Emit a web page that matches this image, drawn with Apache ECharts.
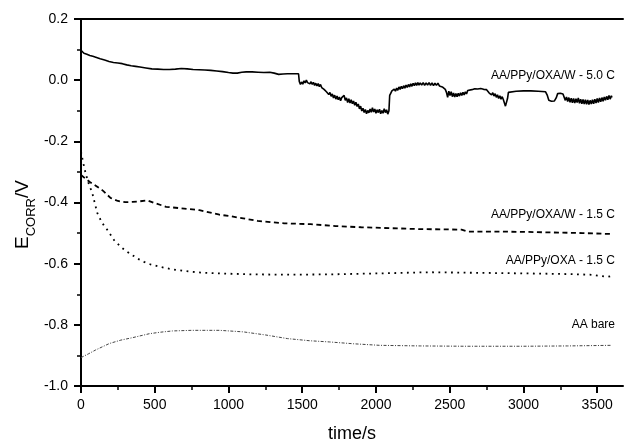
<!DOCTYPE html>
<html>
<head>
<meta charset="utf-8">
<script src="https://cdn.jsdelivr.net/npm/echarts@6/dist/echarts.min.js"></script>
<style>
  html, body { margin: 0; padding: 0; background: #fff; }
  #chart { width: 624px; height: 442px; }
</style>
</head>
<body>
<div id="chart"></div>
<script>
  // time (s), E_corr (V)
  var coatW50 = [
    [0, 0.098], [8, 0.092], [20, 0.088], [40, 0.085], [60, 0.081], [80, 0.078], [100, 0.075], [130, 0.07],
    [160, 0.066], [190, 0.061], [220, 0.058], [250, 0.056], [280, 0.054], [310, 0.05], [340, 0.047],
    [370, 0.045], [400, 0.043], [440, 0.04], [480, 0.037], [520, 0.036], [560, 0.035], [600, 0.035],
    [640, 0.036], [680, 0.038], [720, 0.037], [760, 0.035], [800, 0.034], [840, 0.033], [880, 0.032],
    [920, 0.03], [960, 0.028], [1000, 0.025], [1030, 0.023], [1060, 0.023], [1090, 0.026], [1120, 0.027],
    [1160, 0.027], [1200, 0.026], [1240, 0.025], [1280, 0.026], [1310, 0.023], [1340, 0.019], [1370, 0.02],
    [1400, 0.021], [1440, 0.021], [1475, 0.021],
    [1480, -0.004], [1488, -0.014], [1496, -0.006], [1504, -0.013], [1512, -0.002], [1520, -0.009],
    [1528, 0.0], [1536, -0.008], [1544, -0.003], [1552, -0.012], [1560, -0.005], [1568, -0.014],
    [1576, -0.007], [1584, -0.017], [1592, -0.01], [1600, -0.019], [1608, -0.011], [1616, -0.021],
    [1624, -0.014], [1632, -0.024], [1640, -0.018], [1648, -0.03], [1656, -0.024], [1664, -0.038],
    [1672, -0.033], [1680, -0.047], [1688, -0.04], [1696, -0.053], [1704, -0.045], [1712, -0.058],
    [1720, -0.049], [1728, -0.062], [1736, -0.052], [1744, -0.064], [1752, -0.055], [1760, -0.067],
    [1768, -0.057], [1776, -0.062], [1784, -0.05], [1792, -0.066], [1800, -0.058], [1808, -0.073],
    [1816, -0.061], [1824, -0.075], [1832, -0.064], [1840, -0.077], [1848, -0.068], [1856, -0.082],
    [1864, -0.072], [1872, -0.086], [1880, -0.078], [1888, -0.094], [1896, -0.085], [1904, -0.101],
    [1912, -0.092], [1920, -0.106], [1928, -0.096], [1936, -0.11], [1944, -0.099], [1952, -0.107],
    [1960, -0.094], [1968, -0.105], [1976, -0.09], [1984, -0.104], [1992, -0.094], [2000, -0.108],
    [2008, -0.097], [2016, -0.106], [2024, -0.095], [2032, -0.11], [2040, -0.099], [2048, -0.108],
    [2056, -0.093], [2064, -0.106], [2072, -0.097], [2080, -0.111], [2088, -0.1],
    [2093, -0.05], [2100, -0.043], [2108, -0.035], [2116, -0.04], [2124, -0.029], [2132, -0.036],
    [2140, -0.026], [2148, -0.033], [2156, -0.022], [2164, -0.03], [2172, -0.02], [2180, -0.028],
    [2188, -0.018], [2196, -0.026], [2204, -0.016], [2212, -0.024], [2220, -0.014], [2228, -0.022],
    [2236, -0.012], [2244, -0.02], [2252, -0.01], [2260, -0.018], [2268, -0.009], [2276, -0.017],
    [2284, -0.008], [2292, -0.016], [2300, -0.009], [2310, -0.016], [2320, -0.008], [2330, -0.017],
    [2340, -0.009], [2350, -0.016], [2360, -0.008], [2370, -0.017], [2380, -0.009], [2390, -0.018],
    [2400, -0.01], [2410, -0.017], [2420, -0.01], [2430, -0.019], [2440, -0.013], [2450, -0.022],
    [2460, -0.02], [2470, -0.03], [2478, -0.04], [2486, -0.056], [2494, -0.036], [2502, -0.05],
    [2510, -0.038], [2518, -0.054], [2526, -0.042], [2534, -0.055], [2542, -0.044], [2550, -0.054],
    [2558, -0.043], [2566, -0.052], [2574, -0.041], [2582, -0.05], [2590, -0.04], [2598, -0.048],
    [2606, -0.038], [2614, -0.045], [2622, -0.034], [2632, -0.036], [2650, -0.031], [2670, -0.028],
    [2690, -0.029], [2710, -0.027], [2730, -0.03], [2750, -0.031], [2760, -0.034], [2768, -0.042],
    [2776, -0.037], [2784, -0.048], [2792, -0.041], [2800, -0.052], [2808, -0.044], [2816, -0.056],
    [2824, -0.048], [2832, -0.06], [2840, -0.051], [2848, -0.062], [2856, -0.054], [2864, -0.064],
    [2872, -0.06], [2878, -0.085], [2885, -0.09], [2892, -0.06], [2898, -0.04], [2910, -0.037],
    [2950, -0.036], [3000, -0.035], [3050, -0.035], [3100, -0.036], [3150, -0.038], [3162, -0.05],
    [3172, -0.066], [3190, -0.069], [3210, -0.068], [3222, -0.058], [3232, -0.044], [3250, -0.043],
    [3268, -0.045], [3276, -0.05], [3284, -0.066], [3292, -0.055], [3300, -0.07], [3308, -0.057],
    [3316, -0.072], [3324, -0.059], [3332, -0.074], [3340, -0.06], [3348, -0.075], [3356, -0.061],
    [3364, -0.073], [3372, -0.058], [3380, -0.076], [3388, -0.062], [3396, -0.077], [3404, -0.063],
    [3412, -0.078], [3420, -0.064], [3428, -0.079], [3436, -0.065], [3444, -0.08], [3452, -0.066],
    [3460, -0.078], [3468, -0.064], [3476, -0.077], [3484, -0.062], [3492, -0.075], [3500, -0.06],
    [3508, -0.073], [3516, -0.058], [3524, -0.071], [3532, -0.057], [3540, -0.069], [3548, -0.055],
    [3556, -0.066], [3564, -0.053], [3572, -0.064], [3580, -0.05], [3588, -0.062], [3596, -0.051],
    [3600, -0.057]
  ]
  var coatW15 = [
    [0, -0.31], [30, -0.322], [60, -0.333], [100, -0.345], [150, -0.362], [200, -0.385], [250, -0.395],
    [300, -0.399], [350, -0.398], [400, -0.396], [450, -0.393], [500, -0.402], [577, -0.414], [700, -0.42],
    [803, -0.425], [939, -0.44], [1004, -0.444], [1100, -0.452], [1197, -0.46], [1300, -0.465],
    [1378, -0.468], [1557, -0.471], [1727, -0.477], [1900, -0.481], [2100, -0.484], [2300, -0.487],
    [2500, -0.488], [2580, -0.489], [2620, -0.495], [2800, -0.495], [3000, -0.496], [3200, -0.498],
    [3400, -0.5], [3600, -0.503]
  ]
  var coatOxa15 = [
    [0, -0.234], [15, -0.27], [31, -0.304], [50, -0.335], [77, -0.37], [95, -0.405], [111, -0.435],
    [133, -0.457], [155, -0.475], [179, -0.49], [224, -0.523], [269, -0.545], [310, -0.56], [348, -0.572],
    [390, -0.585], [427, -0.594], [470, -0.602], [518, -0.608], [580, -0.615], [654, -0.621],
    [740, -0.626], [835, -0.63], [950, -0.632], [1150, -0.635], [1400, -0.636], [1700, -0.635],
    [2000, -0.632], [2365, -0.628], [2700, -0.63], [3044, -0.632], [3300, -0.634], [3450, -0.636],
    [3573, -0.643], [3600, -0.64]
  ]
  var bareAA = [
    [0, -0.907], [50, -0.895], [100, -0.882], [193, -0.861], [270, -0.85], [349, -0.842], [464, -0.829],
    [540, -0.824], [620, -0.82], [750, -0.818], [940, -0.818], [1100, -0.823], [1250, -0.833],
    [1400, -0.845], [1550, -0.852], [1686, -0.856], [1850, -0.862], [2025, -0.867], [2300, -0.869],
    [2600, -0.87], [3000, -0.87], [3300, -0.869], [3600, -0.867]
  ]
  var xMajorTicks = [0, 500, 1000, 1500, 2000, 2500, 3000, 3500]
  var xMinorTicks = [250, 750, 1250, 1750, 2250, 2750, 3250]
  var curveNames = ['AA/PPy/OXA/W - 5.0 C', 'AA/PPy/OXA/W - 1.5 C', 'AA/PPy/OXA - 1.5 C', 'AA bare']

  var font = 'Liberation Sans, Arial, sans-serif'
  var xMax = 3675

  var chart = echarts.init(document.getElementById('chart'))
  chart.setOption({
    animation: false,
    backgroundColor: '#fff',
    grid: {
      left: 81,
      top: 19,
      right: 1,
      bottom: 56,
      outerBoundsMode: 'none'
    },
    xAxis: [{
      type: 'value',
      min: 0,
      max: xMax,
      position: 'bottom',
      name: 'time/s',
      nameLocation: 'middle',
      nameGap: 39,
      nameMoveOverlap: false,
      nameTextStyle: { color: '#000', fontSize: 18, fontFamily: font },
      axisLine: { onZero: false, lineStyle: { color: '#000', width: 2 } },
      axisTick: { customValues: xMajorTicks, length: 7, lineStyle: { color: '#000', width: 2 } },
      axisLabel: {
        customValues: xMajorTicks,
        margin: 12,
        color: '#000',
        fontSize: 14,
        fontFamily: font,
        formatter: function(v) { return String(v) }
      },
      splitLine: { show: false }
    }, {
      // minor ticks only
      type: 'value',
      min: 0,
      max: xMax,
      position: 'bottom',
      axisLine: { show: false, onZero: false },
      axisTick: { customValues: xMinorTicks, length: 4, lineStyle: { color: '#000', width: 1.5 } },
      axisLabel: { show: false },
      splitLine: { show: false }
    }, {
      // top frame line
      type: 'value',
      min: 0,
      max: xMax,
      position: 'top',
      axisLine: { onZero: false, lineStyle: { color: '#000', width: 2 } },
      axisTick: { show: false },
      axisLabel: { show: false },
      splitLine: { show: false }
    }],
    yAxis: {
      type: 'value',
      min: -1.0,
      max: 0.2,
      interval: 0.2,
      name: '{e|E}{sub|CORR}{e|/V}',
      nameLocation: 'middle',
      nameGap: 46,
      nameMoveOverlap: false,
      nameTextStyle: {
        color: '#000',
        padding: [0, 24, 0, 0],
        rich: {
          e: { fontSize: 19, fontFamily: font, color: '#000', lineHeight: 22, verticalAlign: 'top' },
          sub: { fontSize: 13, fontFamily: font, color: '#000', lineHeight: 13, verticalAlign: 'top', padding: [12, 0, 0, 0] }
        }
      },
      axisLine: { onZero: false, lineStyle: { color: '#000', width: 2 } },
      axisTick: { length: 7, lineStyle: { color: '#000', width: 2 } },
      minorTick: { show: true, splitNumber: 2, length: 4, lineStyle: { color: '#000', width: 1.5 } },
      axisLabel: {
        margin: 13,
        color: '#000',
        fontSize: 14,
        fontFamily: font,
        formatter: function(v) { return v.toFixed(1) }
      },
      splitLine: { show: false }
    },
    series: [{
      name: curveNames[0],
      type: 'line',
      data: coatW50,
      showSymbol: false,
      lineStyle: { color: '#000', width: 1.6 }
    }, {
      name: curveNames[1],
      type: 'line',
      data: coatW15,
      showSymbol: false,
      lineStyle: { color: '#000', width: 1.8, type: [5, 3.5] }
    }, {
      name: curveNames[2],
      type: 'line',
      data: coatOxa15,
      showSymbol: false,
      lineStyle: { color: '#000', width: 1.8, type: [1.8, 4.5] }
    }, {
      name: curveNames[3],
      type: 'line',
      data: bareAA,
      showSymbol: false,
      lineStyle: { color: '#444', width: 1, type: [3, 1.5, 1, 1.5] }
    }],
    graphic: [
      { type: 'text', right: 9, top: 70, style: { text: curveNames[0], font: '12px ' + font, fill: '#000' } },
      { type: 'text', right: 9, top: 209, style: { text: curveNames[1], font: '12px ' + font, fill: '#000' } },
      { type: 'text', right: 9, top: 255, style: { text: curveNames[2], font: '12px ' + font, fill: '#000' } },
      { type: 'text', right: 9, top: 319, style: { text: curveNames[3], font: '12px ' + font, fill: '#000' } }
    ]
  })
</script>
</body>
</html>
